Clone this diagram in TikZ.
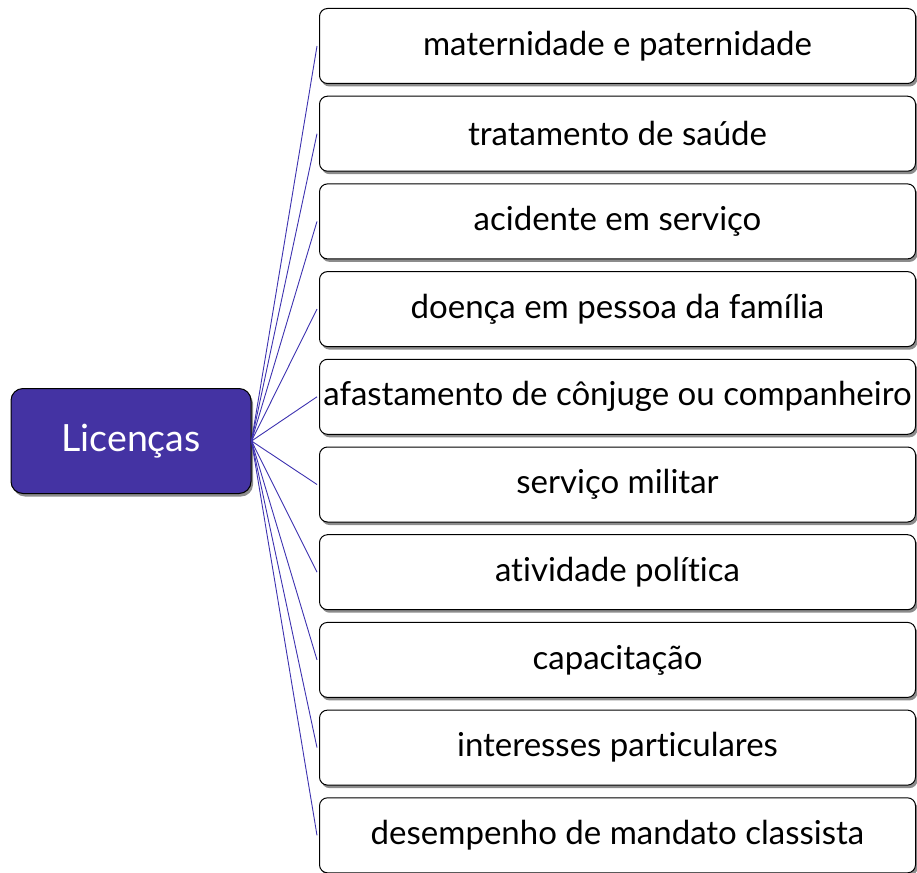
\documentclass[tikz,border=0pt]{standalone}
\usepackage{fontspec}
\setmainfont{Lato}[Ligatures=NoCommon]
\usetikzlibrary{shadows}
\definecolor{rootfill}{HTML}{4433A3}
\definecolor{linkcol}{HTML}{3D32B0}
\tikzset{
  leaf/.style={draw=black, line width=1pt, fill=white, rounded corners=8pt,
    minimum width=596pt, minimum height=75pt, anchor=north west, inner sep=0pt,
    font=\fontsize{33}{38}\selectfont,
    drop shadow={shadow xshift=2pt, shadow yshift=-3pt, fill=black!45, opacity=1}},
  rootbox/.style={draw=black, line width=1pt, fill=rootfill, rounded corners=12pt,
    minimum width=240pt, minimum height=105pt, inner sep=0pt, text=white,
    font=\fontsize{37.5}{42}\selectfont,
    drop shadow={shadow xshift=2pt, shadow yshift=-3pt, fill=black!45, opacity=1}},
  link/.style={draw=linkcol, line width=0.9pt}
}
\begin{document}
\begin{tikzpicture}[x=1pt,y=-1pt]
\useasboundingbox (0,0) rectangle (917,872);
\node[rootbox] (root) at (131,441) {Licenças};
\foreach \i/\t in {1/maternidade e paternidade,2/tratamento de saúde,3/acidente em serviço,4/doença em pessoa da família,5/afastamento de cônjuge ou companheiro,6/serviço militar,7/atividade política,8/capacitação,9/interesses particulares,10/desempenho de mandato classista}{
  \node[leaf] (b\i) at (319,{8+87.7*(\i-1)}) {\makebox[560pt][c]{\t}};
  \coordinate (e\i) at ([xshift=-2pt]b\i.west);
  \draw[link] (root.east) -- (e\i);
}
\end{tikzpicture}
\end{document}
